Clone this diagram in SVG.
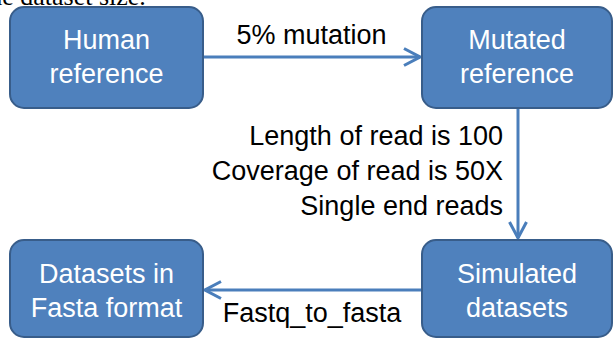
<svg xmlns="http://www.w3.org/2000/svg" width="613" height="339" viewBox="0 0 613 339">
<style>
.box{fill:#4F81BD;stroke:#385D8A;stroke-width:2}
.bt{font-family:"Liberation Sans",Arial,sans-serif;font-size:27px;fill:#FFFFFF;text-anchor:middle}
.lbl{font-family:"Liberation Sans",Arial,sans-serif;font-size:27px;fill:#000000}
.conn{stroke:#4A7EBB;stroke-width:3;fill:none}
.cap{font-family:"Liberation Serif","Times New Roman",serif;font-size:26px;fill:#000000}
</style>
<defs>
<marker id="arr" viewBox="-19 -11 21 22" refX="0" refY="0" markerWidth="21" markerHeight="22" markerUnits="userSpaceOnUse" orient="auto">
<path d="M -16 -8.5 L 0 0 L -16 8.5" fill="none" stroke="#4A7EBB" stroke-width="3" stroke-linejoin="miter"/>
</marker>
</defs>
<text class="cap" x="-18" y="4.5">the dataset size.</text>
<g id="connectors">
<line class="conn" x1="203" y1="57" x2="420" y2="57" marker-end="url(#arr)"/>
<line class="conn" x1="518" y1="108" x2="518" y2="238" marker-end="url(#arr)"/>
<line class="conn" x1="422" y1="290" x2="205" y2="290" marker-end="url(#arr)"/>
<text class="lbl" x="311.5" y="44" text-anchor="middle">5% mutation</text>
<text class="lbl" x="503" y="145" text-anchor="end">Length of read is 100</text>
<text class="lbl" x="503" y="180" text-anchor="end">Coverage of read is 50X</text>
<text class="lbl" x="503" y="215" text-anchor="end">Single end reads</text>
<text class="lbl" x="312" y="322" text-anchor="middle">Fastq_to_fasta</text>
</g>
<g id="human-reference">
<rect class="box" x="10" y="7" width="193" height="101" rx="14"/>
<text class="bt" x="106.5" y="49">Human</text>
<text class="bt" x="106.5" y="83">reference</text>
</g>
<g id="mutated-reference">
<rect class="box" x="422" y="7" width="190" height="101" rx="14"/>
<text class="bt" x="517" y="49">Mutated</text>
<text class="bt" x="517" y="83">reference</text>
</g>
<g id="simulated-datasets">
<rect class="box" x="422" y="240" width="190" height="97" rx="14"/>
<text class="bt" x="517" y="283">Simulated</text>
<text class="bt" x="517" y="317">datasets</text>
</g>
<g id="datasets-fasta">
<rect class="box" x="10" y="240" width="193" height="97" rx="14"/>
<text class="bt" x="106.5" y="283">Datasets in</text>
<text class="bt" x="106.5" y="317">Fasta format</text>
</g>
</svg>
